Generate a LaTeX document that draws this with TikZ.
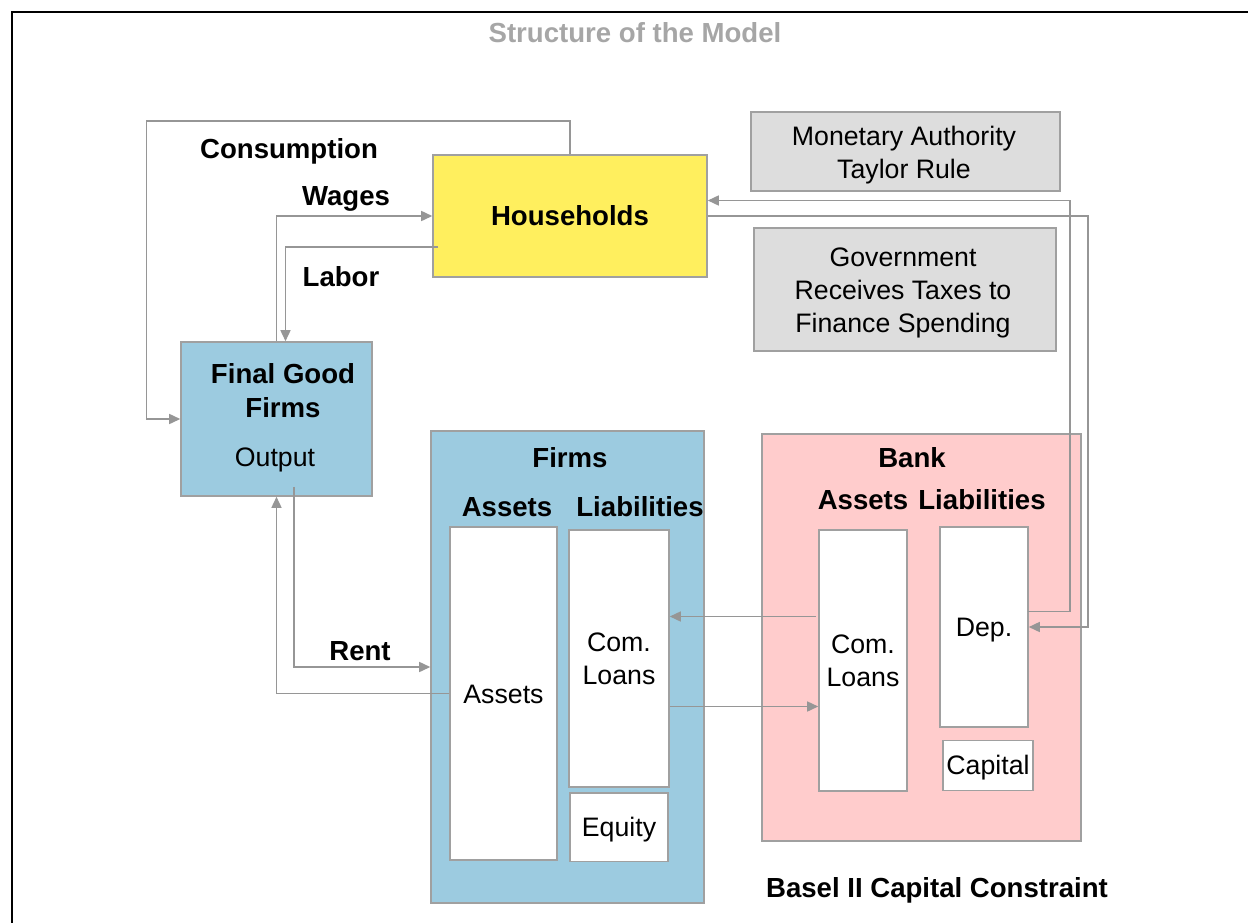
\documentclass[tikz,border=0pt]{standalone}
\usepackage{fontspec}
\setmainfont{Liberation Sans}
\usetikzlibrary{arrows.meta, positioning}
\definecolor{hhyellow}{RGB}{255,239,94}
\definecolor{firmblue}{RGB}{156,203,224}
\definecolor{bankpink}{RGB}{255,204,204}
\definecolor{govgray}{RGB}{221,221,221}
\definecolor{linegray}{RGB}{160,160,160}
\definecolor{arrowgray}{RGB}{150,150,150}
\definecolor{titlegray}{RGB}{166,166,166}

\begin{document}
\begin{tikzpicture}[x=0.02cm, y=-0.02cm, box/.style={draw=linegray, line width=0.9pt, inner sep=0pt}, txt/.style={font=\fontsize{15.2}{18.8}\selectfont, align=center}, one/.style={text height=10.9pt, text depth=0pt}, lbl/.style={font=\bfseries\fontsize{15.7}{19.3}\selectfont, text height=11.2pt, text depth=0pt, inner sep=0pt}, conn/.style={draw=arrowgray, line width=0.85pt, -{Triangle[length=0.22cm, width=0.2cm]}}]
\useasboundingbox (0,0) rectangle (1248,923);
\draw[line width=1.1pt] (12,923) -- (12,12) -- (1248,12);
\node[lbl, text=titlegray] (title) at (635,33) {Structure of the Model};

\node[box, lbl, fill=hhyellow, minimum width=5.48cm, minimum height=2.44cm] (hh) at (570,216) {Households};
\node[box, fill=govgray, minimum width=6.18cm, minimum height=1.58cm] (ma) at (905.5,151.5) {};
\node[txt] (matext) at (904,155) {Monetary Authority\\Taylor Rule};
\node[box, fill=govgray, minimum width=6.04cm, minimum height=2.46cm] (gov) at (905,289.5) {};
\node[txt] (govtext) at (903,293) {Government\\Receives Taxes to\\Finance Spending};

\node[box, fill=firmblue, minimum width=3.82cm, minimum height=3.08cm] (fg) at (276.5,419) {};
\node[font=\bfseries\fontsize{15.7}{19.3}\selectfont, align=center] (fgname) at (283,391) {Final Good\\Firms};
\node[txt, one] (output) at (275,457) {Output};

\node[box, fill=firmblue, minimum width=5.46cm, minimum height=9.44cm] (firms) at (567.5,667) {};
\node[lbl] (firmsname) at (570,458) {Firms};
\node[lbl] (fahead) at (507,507) {Assets};
\node[lbl] (flhead) at (640,507) {Liabilities};
\node[box, txt, one, fill=white, minimum width=2.14cm, minimum height=6.66cm] (fa) at (503.5,693.5) {Assets};
\node[box, txt, fill=white, minimum width=2cm, minimum height=5.14cm] (fl) at (619,658.5) {Com.\\Loans};
\node[box, txt, one, fill=white, minimum width=1.96cm, minimum height=1.37cm, below=0.09cm of fl] (eq) {Equity};

\node[box, fill=bankpink, minimum width=6.38cm, minimum height=8.14cm] (bank) at (921.5,637.5) {};
\node[lbl] (bankname) at (912,458) {Bank};
\node[lbl] (bahead) at (863,500) {Assets};
\node[lbl] (blhead) at (982,500) {Liabilities};
\node[box, txt, fill=white, minimum width=1.76cm, minimum height=5.22cm] (bl) at (863,660.5) {Com.\\Loans};
\node[box, txt, one, fill=white, minimum width=1.76cm, minimum height=3.99cm] (dep) at (984,627) {Dep.};
\node[box, txt, one, fill=white, minimum width=1.8cm, minimum height=1cm, below=0.24cm of dep, xshift=0.08cm] (cap) {Capital};
\node[lbl] (basel) at (937,888) {Basel II Capital Constraint};

\node[lbl] (cons) at (289,149) {Consumption};
\node[lbl] (wages) at (346,196) {Wages};
\node[lbl] (labor) at (341,277) {Labor};
\node[lbl] (rent) at (360,651) {Rent};

\draw[conn] (hh.north) |- (146.5,121) |- (fg.west);
\draw[conn] (fg.north) |- (hh.west);
\draw[conn] ([shift={(6,31)}]hh.west) -| ([shift={(9,0)}]fg.north);
\draw[conn] ([shift={(17.5,-10)}]fg.south) |- (firms.west);
\draw[conn] (fa.west) -| (fg.south);
\draw[conn] ([shift={(-2,-44)}]bl.west) -- ([shift={(0,-42)}]fl.east);
\draw[conn] ([shift={(0,48)}]fl.east) -- ([shift={(0,46)}]bl.west);
\draw[conn] ([shift={(-1,-15.5)}]dep.east) -- ++(42,0) |- ([shift={(0,-15.5)}]hh.east);
\draw[conn] (hh.east) -- ++(380,0) |- (dep.east);
\end{tikzpicture}
\end{document}
